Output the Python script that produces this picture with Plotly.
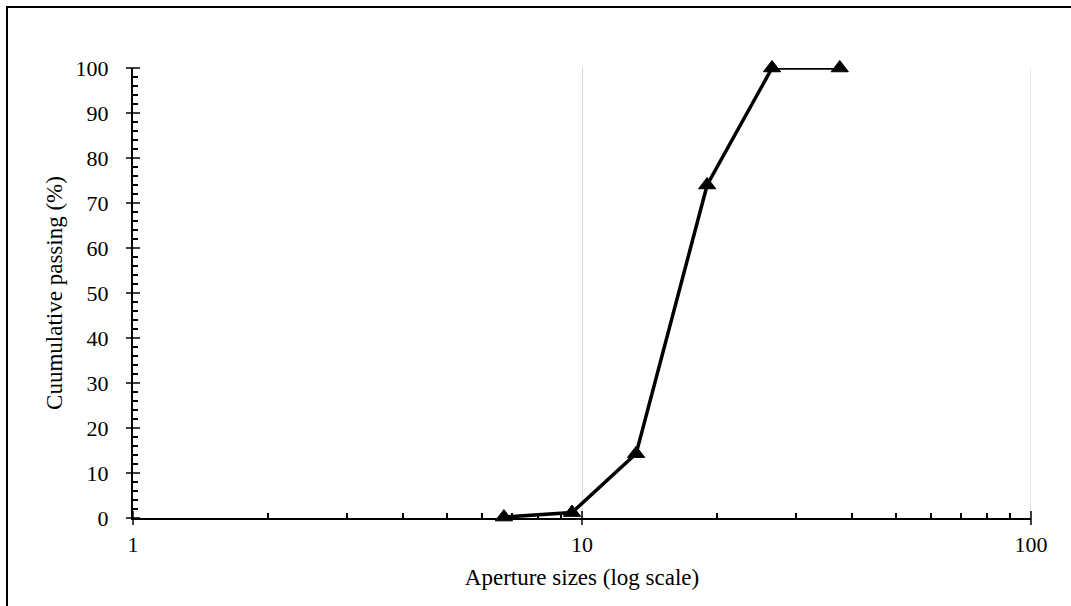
import plotly.graph_objects as go

# Sieve analysis: aperture size (mm) vs cumulative passing (%)
aperture_sizes = [6.7, 9.5, 13.2, 19.0, 26.5, 37.5]
cumulative_passing = [0.2, 1.2, 14.3, 74.0, 100.0, 100.0]

x_major = [1, 10, 100]
x_minor = [2, 3, 4, 5, 6, 7, 8, 9, 20, 30, 40, 50, 60, 70, 80, 90]
y_ticks = list(range(0, 101, 10))
y_minor = [v for v in range(0, 101, 2) if v % 10]

FONT = "Liberation Serif"
TICK_FONT = dict(family=FONT, size=22, color="black")
TITLE_FONT = dict(family=FONT, size=23, color="black")

fig = go.Figure()
fig.add_trace(go.Scatter(
    x=aperture_sizes, y=cumulative_passing,
    mode="lines+markers",
    line=dict(color="black", width=3.5),
    marker=dict(symbol="triangle-up", size=15, color="black",
                line=dict(color="black", width=1)),
    cliponaxis=False,
    showlegend=False,
))

# cross-style major tick marks drawn on the axes
fig.add_trace(go.Scatter(
    x=[1] * len(y_ticks), y=y_ticks, mode="markers",
    marker=dict(symbol="line-ew", size=10, line=dict(color="black", width=1.5)),
    cliponaxis=False, showlegend=False, hoverinfo="skip",
))
fig.add_trace(go.Scatter(
    x=x_major, y=[0] * len(x_major), mode="markers",
    marker=dict(symbol="line-ns", size=10, line=dict(color="black", width=1.5)),
    cliponaxis=False, showlegend=False, hoverinfo="skip",
))

fig.update_layout(
    width=1071, height=606,
    margin=dict(l=133, r=40, t=68, b=88),
    paper_bgcolor="white", plot_bgcolor="white",
    font=dict(family=FONT, size=22, color="black"),
    xaxis=dict(
        type="log", range=[0, 2],
        tickvals=x_major, ticktext=[str(v) for v in x_major],
        ticks="", ticklabelstandoff=6,
        minor=dict(tickvals=x_minor, ticks="inside", ticklen=5,
                   tickwidth=1.5, tickcolor="black", showgrid=False),
        showgrid=True, gridcolor="#d9d9d9", gridwidth=1.3,
        showline=True, linecolor="black", linewidth=2, zeroline=False,
        title=dict(text="Aperture sizes (log scale)", standoff=12, font=TITLE_FONT),
        tickfont=TICK_FONT,
    ),
    yaxis=dict(
        range=[0, 100], tickvals=y_ticks,
        ticks="",
        minor=dict(tickvals=y_minor, ticks="inside", ticklen=5,
                   tickwidth=1.5, tickcolor="black", showgrid=False),
        showgrid=False, showline=True, linecolor="black", linewidth=2,
        zeroline=False, ticklabelstandoff=18,
        title=dict(text="Cuumulative passing (%)", standoff=7, font=TITLE_FONT),
        tickfont=TICK_FONT,
    ),
)

# gridline at the right end of the log axis
fig.add_shape(type="line", xref="x", yref="paper", x0=100, x1=100, y0=0, y1=1,
              line=dict(color="#d9d9d9", width=1.3), layer="below")

# chart frame
fig.add_shape(type="rect", xref="paper", yref="paper",
              x0=-0.1403, x1=1.06, y0=-0.22, y1=1.1356,
              line=dict(color="black", width=2), layer="below")

fig.write_html("out.html")
